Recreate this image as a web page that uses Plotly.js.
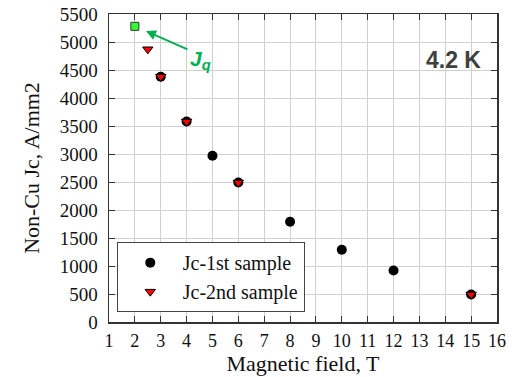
<!DOCTYPE html>
<html><head><meta charset="utf-8">
<script src="https://cdn.plot.ly/plotly-3.0.1.min.js"></script>
<style>html,body{margin:0;padding:0;background:#fff}</style>
</head><body>
<div id="chart" style="width:512px;height:377px"></div>
<script>
const field1 = [3, 4, 5, 6, 8, 10, 12, 15];
const jc1 = [4380, 3580, 2970, 2490, 1790, 1290, 920, 490];
const field2 = [2.5, 3, 4, 6, 15];
const jc2 = [4870, 4380, 3580, 2490, 490];
const fieldQ = [2];
const jq = [5280];
const xTicks = [1,2,3,4,5,6,7,8,9,10,11,12,13,14,15,16];
const yTicks = [0,500,1000,1500,2000,2500,3000,3500,4000,4500,5000,5500];

const serif = 'Liberation Serif, Times New Roman, serif';
const traces = [
  {x: field1, y: jc1, type: 'scatter', mode: 'markers', name: 'Jc-1st sample',
   marker: {symbol: 'circle', size: 10, color: '#000000'}},
  {x: field2, y: jc2, type: 'scatter', mode: 'markers', name: 'Jc-2nd sample',
   marker: {symbol: 'triangle-down', size: 9, color: '#ff0000', line: {color: '#000', width: 1}}},
  {x: fieldQ, y: jq, type: 'scatter', mode: 'markers', showlegend: false,
   marker: {symbol: 'square', size: 8, color: '#33ff33', line: {color: '#333', width: 1}}}
];
const axisCommon = {
  showline: true, linecolor: '#333', linewidth: 1.5, mirror: 'ticks',
  ticks: 'inside', ticklen: 6, tickcolor: '#333',
  showgrid: true, gridcolor: '#d0d0d0', gridwidth: 1, zeroline: false,
  tickfont: {family: serif, size: 19, color: '#111'}
};
const layout = {
  width: 512, height: 377,
  margin: {l: 109, r: 15, t: 14, b: 55},
  paper_bgcolor: '#fff', plot_bgcolor: '#fff',
  showlegend: true,
  legend: {x: 0.02, y: 0.032, xanchor: 'left', yanchor: 'bottom',
    bgcolor: '#fff', bordercolor: '#444', borderwidth: 1,
    font: {family: serif, size: 20, color: '#111'}, itemwidth: 55, tracegroupgap: 0},
  xaxis: Object.assign({}, axisCommon, {range: [1, 16], tickvals: xTicks, ticklabelstandoff: 2,
    tickfont: {family: serif, size: 18, color: '#111'},
    title: {text: 'Magnetic field, T', font: {family: serif, size: 22, color: '#111'}, standoff: 3}}),
  yaxis: Object.assign({}, axisCommon, {range: [0, 5500], tickvals: yTicks, ticklabelstandoff: 6,
    title: {text: 'Non-Cu Jc, A/mm2', font: {family: serif, size: 22, color: '#111'}, standoff: 14}}),
  annotations: [
    {x: 2.43, y: 5196, xref: 'x', yref: 'y', ax: 43, ay: 19, axref: 'pixel', ayref: 'pixel',
     showarrow: true, arrowhead: 2, arrowsize: 1, arrowwidth: 2, arrowcolor: '#00b050', text: ''},
    {x: 4.55, y: 4680, xref: 'x', yref: 'y', showarrow: false,
     text: '<b><i>J<sub>q</sub></i></b>', font: {family: 'Liberation Sans, Arial, sans-serif', size: 21, color: '#00b050'}},
    {x: 0.963, y: 0.851, xref: 'paper', yref: 'paper', xanchor: 'right', yanchor: 'middle', showarrow: false,
     text: '<b>4.2 K</b>', font: {family: 'Liberation Sans, Arial, sans-serif', size: 23, color: '#404040'}}
  ]
};
Plotly.newPlot('chart', traces, layout, {displayModeBar: false, staticPlot: true});
</script>
</body></html>
